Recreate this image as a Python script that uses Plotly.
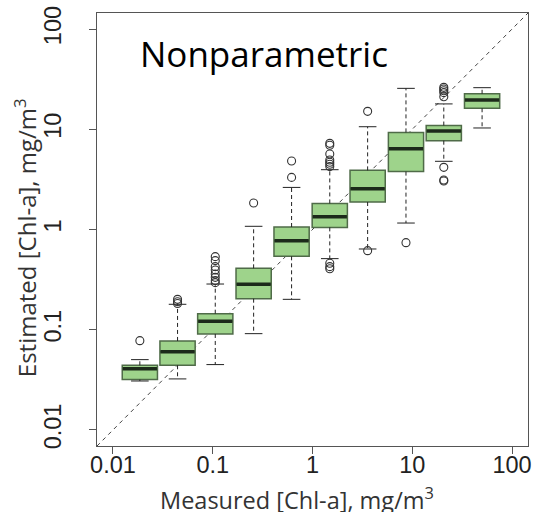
import numpy as np
import plotly.graph_objects as go

# ---- data ----
measured_bins = [0.0186, 0.0444, 0.106, 0.257, 0.617, 1.49, 3.57, 8.65, 20.7, 50.1]
q1 =      [0.0318, 0.0442, 0.0907, 0.204, 0.540, 1.05, 1.88, 3.78, 7.69, 16.2]
median =  [0.0409, 0.0604, 0.1213, 0.284, 0.774, 1.34, 2.55, 6.40, 9.61, 19.6]
q3 =      [0.0442, 0.0773, 0.1446, 0.410, 1.059, 1.82, 3.89, 9.31, 10.9, 22.6]
lower_whisker = [0.0308, 0.0323, 0.0449, 0.0914, 0.201, 0.512, 0.639, 1.16, 4.79, 10.3]
upper_whisker = [0.0503, 0.1794, 0.2858, 1.076, 2.63, 3.95, 10.6, 25.6, 17.9, 26.0]
outliers = [
    [0.0778],
    [0.201, 0.1905, 0.183],
    [0.536, 0.489, 0.426, 0.394, 0.360, 0.333, 0.309, 0.295],
    [1.84],
    [3.31, 4.82],
    [7.24, 6.92, 5.66, 4.93, 4.68, 4.47, 4.24, 0.460, 0.426, 0.406],
    [15.1, 0.615],
    [0.739],
    [26.2, 25.2, 24.2, 23.2, 21.1, 4.17, 3.12, 3.05],
    [],
]
tick_values = [0.01, 0.1, 1, 10, 100]
tick_labels = ["0.01", "0.1", "1", "10", "100"]
x_title = "Measured [Chl-a], mg/m<sup>3</sup>"
y_title = "Estimated [Chl-a], mg/m<sup>3</sup>"
panel_title = "Nonparametric"

# ---- styling ----
BOX_WIDTH = 0.353          # in decades (x axis drawn in log10 space)
AX_RANGE = [-2.16, 2.16]
FILL = "#9ed38b"
EDGE = "#4f6b48"
AXCOL = "#555555"

xpos = [float(np.log10(v)) for v in measured_bins]

fig = go.Figure()

# boxes (whiskers drawn separately, dashed like R)
fig.add_trace(go.Box(
    x=xpos, q1=q1, median=median, q3=q3,
    lowerfence=q1, upperfence=q3,
    width=BOX_WIDTH, whiskerwidth=0,
    fillcolor=FILL, line=dict(color=EDGE, width=1.5),
    boxpoints=False, showlegend=False, hoverinfo="skip",
))

wx, wy, cx, cy, mx, my = [], [], [], [], [], []
for p, a, b, lo, hi, m in zip(xpos, q1, q3, lower_whisker, upper_whisker, median):
    wx += [p, p, None, p, p, None]
    wy += [b, hi, None, a, lo, None]
    cx += [p - BOX_WIDTH / 4, p + BOX_WIDTH / 4, None, p - BOX_WIDTH / 4, p + BOX_WIDTH / 4, None]
    cy += [hi, hi, None, lo, lo, None]
    mx += [p - BOX_WIDTH / 2 + 0.005, p + BOX_WIDTH / 2 - 0.005, None]
    my += [m, m, None]

fig.add_trace(go.Scatter(x=wx, y=wy, mode="lines",
                         line=dict(color="#222222", width=1, dash="4px,3px"),
                         showlegend=False, hoverinfo="skip"))
fig.add_trace(go.Scatter(x=cx, y=cy, mode="lines",
                         line=dict(color="#222222", width=1),
                         showlegend=False, hoverinfo="skip"))
fig.add_trace(go.Scatter(x=mx, y=my, mode="lines",
                         line=dict(color="#1c2a1a", width=3.5),
                         showlegend=False, hoverinfo="skip"))

ox, oy = [], []
for p, outs in zip(xpos, outliers):
    for v in outs:
        ox.append(p)
        oy.append(v)
fig.add_trace(go.Scatter(x=ox, y=oy, mode="markers",
                         marker=dict(symbol="circle-open", size=8, color="#333333",
                                     line=dict(width=1.1)),
                         showlegend=False, hoverinfo="skip"))

# 1:1 line along the axis range (x axis in log10 units, y axis log type in data units)
fig.add_shape(type="line", xref="x", yref="y", layer="below",
              x0=AX_RANGE[0], y0=10 ** AX_RANGE[0], x1=AX_RANGE[1], y1=10 ** AX_RANGE[1],
              line=dict(color="#444444", width=1, dash="4px,4px"))

fig.add_annotation(text=panel_title, xref="paper", yref="paper",
                   x=0.095, y=0.906, xanchor="left", yanchor="middle",
                   showarrow=False, font=dict(family="Open Sans", size=35, color="#000000"))
fig.add_annotation(text=x_title, xref="paper", yref="paper",
                   x=0.464, y=-0.1215, xanchor="center", yanchor="middle",
                   showarrow=False, font=dict(family="Open Sans", size=23.5, color="#333333"))
fig.add_annotation(text=y_title, xref="paper", yref="paper", textangle=-90,
                   x=-0.167, y=0.480, xanchor="center", yanchor="middle",
                   showarrow=False, font=dict(family="Open Sans", size=24, color="#333333"))

axis_common = dict(showline=True, linecolor=AXCOL, linewidth=1, mirror=True,
                   ticks="outside", ticklen=7, tickcolor=AXCOL, showgrid=False,
                   zeroline=False, automargin=False,
                   tickfont=dict(family="Liberation Sans", size=23.5, color="#222222"))

fig.update_xaxes(type="linear", range=AX_RANGE,
                 tickvals=[float(np.log10(v)) for v in tick_values], ticktext=tick_labels,
                 ticklabelstandoff=-9,
                 **axis_common)
fig.update_yaxes(type="log", range=AX_RANGE, tickvals=tick_values, ticktext=tick_labels,
                 tickangle=-90, ticklabelstandoff=19,
                 **axis_common)

fig.update_layout(template="none", width=536, height=512,
                  margin=dict(l=97, r=8, t=13, b=66),
                  plot_bgcolor="white", paper_bgcolor="white", showlegend=False)

fig.write_html("out.html", config={"displayModeBar": False},
               post_script="document.body.style.margin='0px';")
